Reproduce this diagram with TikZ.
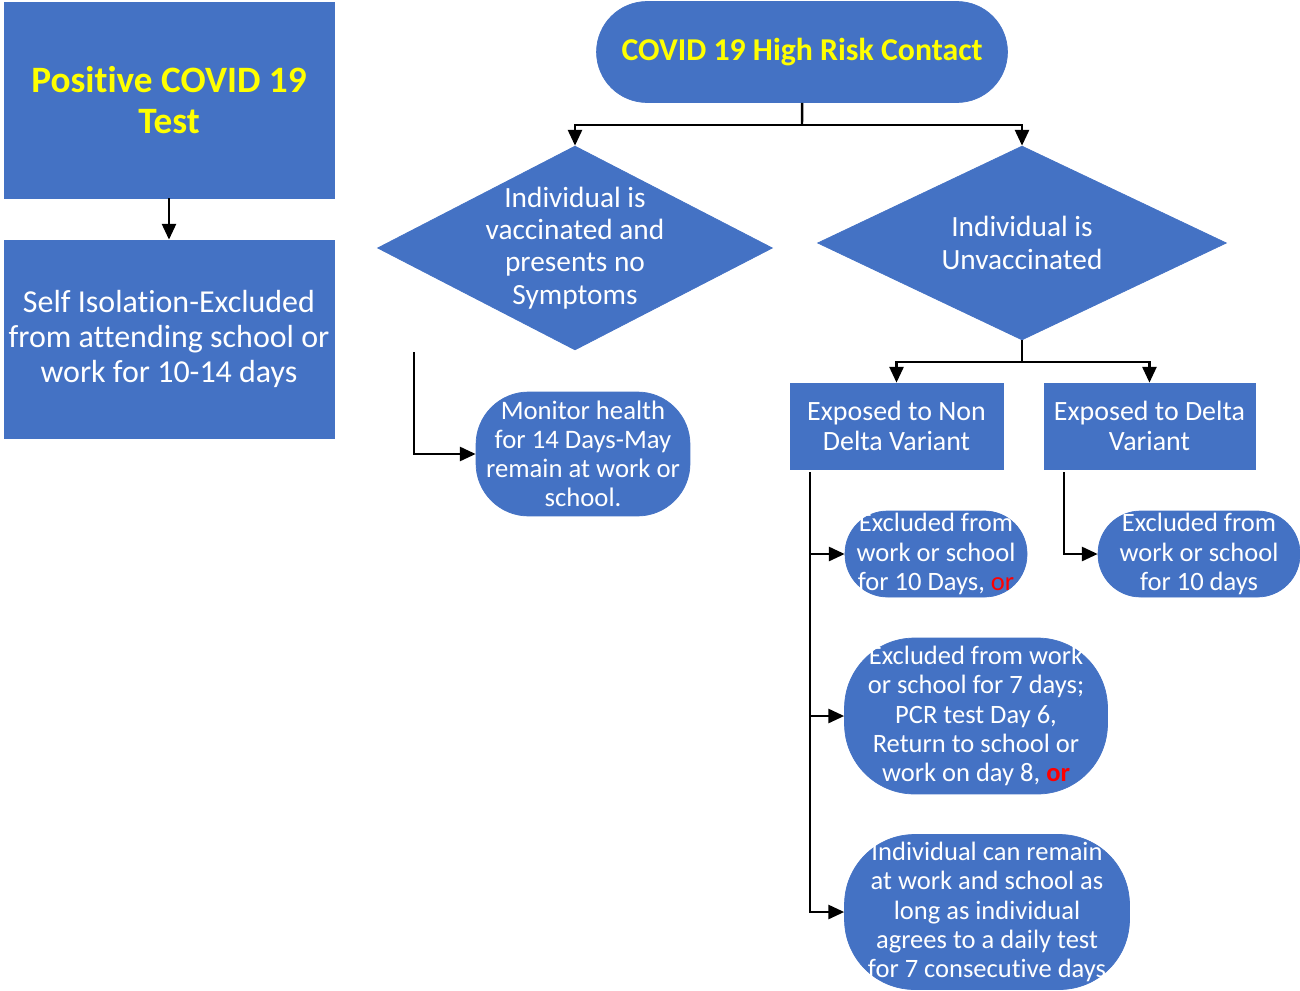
\documentclass[tikz,border=0pt]{standalone}
\usepackage{fontspec}
\setmainfont{Carlito}[Ligatures={NoCommon}]
\usetikzlibrary{shapes.geometric, shapes.misc, arrows.meta}
\definecolor{boxblue}{HTML}{4472C4}
\definecolor{headyellow}{HTML}{FFFF00}
\tikzstyle{block} = [rectangle, draw=boxblue, fill=boxblue, text=white, align=center, inner sep=0pt]
\tikzstyle{decision} = [diamond, draw=boxblue, fill=boxblue, inner sep=0pt]
\tikzstyle{dtext} = [text=white, align=center, font=\fontsize{16.7}{18.4}\selectfont]
\tikzstyle{outcome} = [rectangle, draw=boxblue, fill=boxblue, text=white, align=center, inner sep=0pt, font=\fontsize{15.1}{16.7}\selectfont]
\tikzstyle{headline} = [text=headyellow, font=\bfseries\fontsize{21.2}{23.8}\selectfont]
\tikzstyle{line} = [draw, black, line width=1.4pt, -{Triangle[length=9pt,width=8pt]}]
\tikzstyle{plain} = [draw, black, line width=1.4pt]

\begin{document}
\begin{tikzpicture}[x=0.02cm,y=-0.02cm,node distance=2cm]
    \useasboundingbox (0,0) rectangle (1300,990);
    % Place nodes
    \node [block, headline, minimum width=6.6cm, minimum height=3.92cm] (pos) at (169,100) {Positive COVID 19\\Test};
    \node [block, below of=pos, node distance=4.78cm, minimum width=6.6cm, minimum height=3.96cm, font=\fontsize{18.2}{19.8}\selectfont] (iso) {Self Isolation-Excluded\\from attending school or\\work for 10-14 days};
    \node [rounded rectangle, draw=boxblue, fill=boxblue, inner sep=0pt, minimum width=8.22cm, minimum height=2.02cm, text=headyellow, font=\bfseries\fontsize{18.1}{20}\selectfont] (contact) at (802,52) {COVID 19 High Risk Contact};
    \node [decision, minimum width=7.9cm, minimum height=4.08cm, label={[dtext]center:Individual is\\vaccinated and\\presents no\\Symptoms}] (vacc) at (575,248) {};
    \node [decision, minimum width=8.18cm, minimum height=3.88cm, label={[dtext]center:Individual is\\Unvaccinated}] (unvac) at (1022,243) {};
    \node [outcome, rounded corners=1.05cm, minimum width=4.28cm, minimum height=2.48cm, font=\fontsize{15.2}{16.4}\selectfont] (monitor) at (583,454) {Monitor health\\for 14 Days-May\\remain at work or\\school.};
    \node [block, minimum width=4.26cm, minimum height=1.72cm, font=\fontsize{15.9}{17}\selectfont] (nondelta) at (896.5,426) {Exposed to Non\\Delta Variant};
    \node [block, right of=nondelta, node distance=5.06cm, minimum width=4.22cm, minimum height=1.72cm, font=\fontsize{15.9}{17}\selectfont] (delta) {Exposed to Delta\\Variant};
    \node [outcome, rounded corners=0.85cm, minimum width=3.64cm, minimum height=1.72cm] (excla) at (936,554) {Excluded from\\work or school\\for 10 Days, \textcolor{red}{or}};
    \node [outcome, rounded corners=0.85cm, minimum width=4.04cm, minimum height=1.72cm] (exclb) at (1199,554) {Excluded from\\work or school\\for 10 days};
    \node [outcome, rounded corners=1.4cm, minimum width=5.26cm, minimum height=3.12cm] (exclc) at (976,716) {Excluded from work\\or school for 7 days;\\PCR test Day 6,\\Return to school or\\work on day 8, \textbf{\textcolor{red}{or}}};
    \node [outcome, rounded corners=1.4cm, minimum width=5.7cm, minimum height=3.1cm] (remain) at (987,912) {Individual can remain\\at work and school as\\long as individual\\agrees to a daily test\\for 7 consecutive days};
    \coordinate (split) at (802,125);
    \coordinate (vtap) at (414,352);
    \coordinate (fork) at (1022,362);
    \coordinate (ndtap) at (810,472);
    \coordinate (dtap) at (1064,472);
    % Draw edges
    \path [line] (pos) -- (iso);
    \path [plain] (contact) -- (split);
    \path [line] (split) -| (vacc);
    \path [line] (split) -| (unvac);
    \path [line] (vtap) |- (monitor);
    \path [plain] (unvac) -- (fork);
    \path [line] (fork) -| (nondelta);
    \path [line] (fork) -| (delta);
    \path [line] (ndtap) |- (excla);
    \path [line] (ndtap) |- (exclc);
    \path [line] (ndtap) |- (remain);
    \path [line] (dtap) |- (exclb);
\end{tikzpicture}
\end{document}
